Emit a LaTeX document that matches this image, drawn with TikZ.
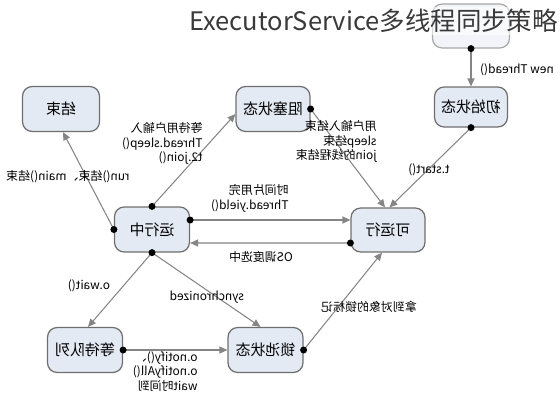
\documentclass[tikz,border=0pt]{standalone}
\usepackage{graphicx}
\usepackage{fontspec}
\setmainfont{Noto Sans CJK SC}
\usepackage{tikz}
\usetikzlibrary{arrows.meta, calc}
\definecolor{boxfill}{HTML}{E4EAF4}
\definecolor{boxline}{HTML}{6E6E6E}
\definecolor{wire}{HTML}{858585}
\definecolor{titlegray}{HTML}{3A3A3A}
\newcommand{\mirlines}[1]{\reflectbox{\begin{tabular}{@{}l@{}}#1\end{tabular}}}

\begin{document}
\begin{tikzpicture}[x=0.02cm, y=-0.02cm, >={Triangle[length=4.5pt,width=4pt]}]
    \tikzset{
        statebox/.style={draw=boxline, line width=0.7pt, fill=boxfill, rounded corners=5.5pt,
            minimum width=1.5cm, minimum height=0.9cm, inner sep=0pt,
            font=\fontsize{8.5}{10}\selectfont},
        wirelabel/.style={inner sep=0pt, font=\fontsize{6.8}{8.2}\selectfont},
        link/.style={draw=wire, line width=0.6pt, ->}
    }
    \useasboundingbox (0,0) rectangle (560,400);
    % states
    \node[statebox, draw=boxline!60, fill=boxfill!50, minimum height=0.88cm, minimum width=1.54cm] (new) at (471,26) {};
    \node[statebox, minimum height=0.8cm, minimum width=1.46cm] (init) at (471,107) {\reflectbox{初始状态}};
    \node[statebox, minimum width=1.54cm] (stop) at (61,109) {\reflectbox{结束}};
    \node[statebox, minimum width=1.48cm] (block) at (273,109) {\reflectbox{阻塞状态}};
    \node[statebox] (run) at (152,229.5) {\reflectbox{运行中}};
    \node[statebox, minimum width=1.48cm, minimum height=0.88cm] (ready) at (388,230) {\reflectbox{可运行}};
    \node[statebox] (wait) at (85,350) {\reflectbox{等待队列}};
    \node[statebox] (lock) at (265.5,350) {\reflectbox{锁池状态}};
    % title
    \node[anchor=east, inner sep=1pt, fill=white, fill opacity=0.55, text opacity=1, text=titlegray,
        font=\fontsize{14.5}{17}\selectfont] (title) at (560,21) {ExecutorService多线程同步策略};
    % end points off the anchors
    \coordinate (runhi) at ($(run.east)+(0,-9.5)$);
    \coordinate (readyhi) at ($(ready.west)+(0,-10)$);
    \coordinate (readylo) at ($(ready.west)+(0,13)$);
    \coordinate (runlo) at ($(run.east)+(0,13.5)$);
    % connectors
    \draw[link] (new.south) -- (init.north);
    \draw[link] (init.south) -- ($(ready.north)+(1.5,0)$);
    \draw[link] (block.east) -- ($(ready.north)+(-3,0)$);
    \draw[link] (run.north) -- ($(block.west)+(0,5)$);
    \draw[link] (run.west) -- ($(stop.south)+(2,0)$);
    \draw[link] (runhi) -- (readyhi);
    \draw[link] (readylo) -- (runlo);
    \draw[link] (run.south) -- ($(wait.north)+(3,0)$);
    \draw[link] (run.south) -- ($(lock.north)+(-5,0)$);
    \draw[link] (wait.east) -- (lock.west);
    \draw[link] (lock.east) -- ($(ready.south)+(-6,0)$);
    % start dots
    \foreach \p in {new.south, init.south, block.east, run.north, run.west, runhi, readylo, run.south, wait.east, lock.east}
        \fill (\p) circle (0.07cm);
    % labels
    \node[wirelabel] (lnew) at (517,70) {\reflectbox{new Thread()}};
    \node[wirelabel] (lstart) at (429,170) {\reflectbox{t.start()}};
    \node[wirelabel, anchor=east] (lwake) at (377,142.5) {\mirlines{用户输入结束\\sleep结束\\join的线程结束}};
    \node[wirelabel, anchor=east] (lsleep) at (203,144.5) {\mirlines{等待用户输入\\Thread.sleep()\\t2.join()}};
    \node[wirelabel] (lend) at (68,177) {\reflectbox{run()结束、main()结束}};
    \node[wirelabel, anchor=east] (lyield) at (289,199) {\mirlines{时间片用完\\Thread.yield()}};
    \node[wirelabel] (los) at (261,257) {\reflectbox{OS调度选中}};
    \node[wirelabel] (lwait) at (89,286) {\reflectbox{o.wait()}};
    \node[wirelabel] (lsync) at (207,297) {\reflectbox{synchronized}};
    \node[wirelabel, anchor=east] (lnotify) at (198,373) {\mirlines{o.notify()、\\o.notifyAll()\\wait时间到}};
    \node[wirelabel] (lget) at (369,307) {\reflectbox{拿到对象的锁标记}};
\end{tikzpicture}
\end{document}
